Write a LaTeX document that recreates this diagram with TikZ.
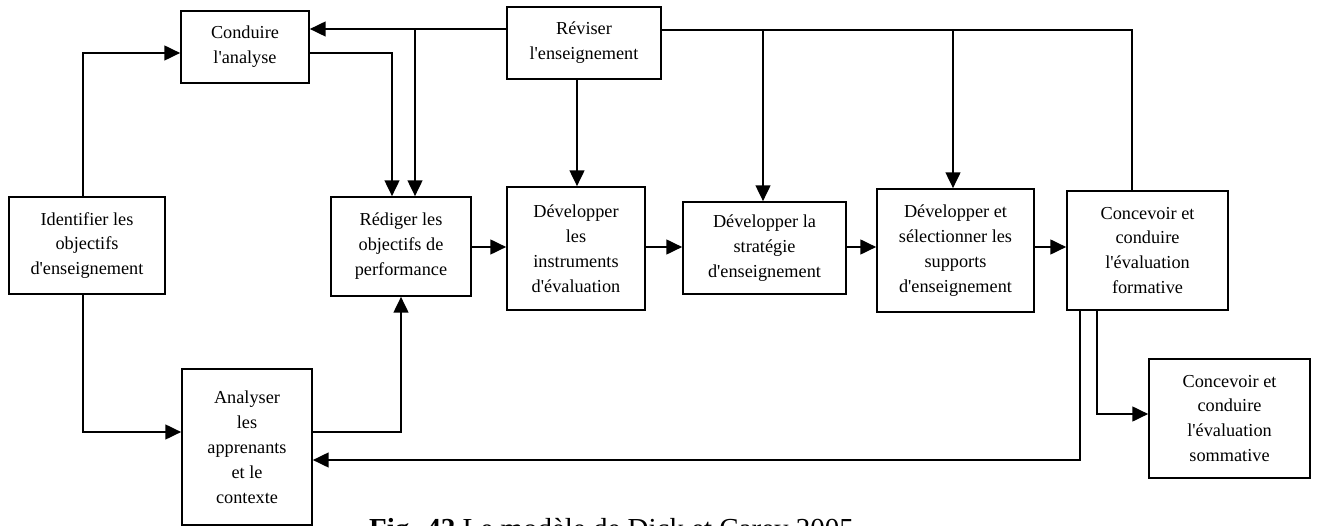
\documentclass[tikz,border=0pt]{standalone}
\usepackage{fontspec}
\setmainfont{Liberation Serif}
\usetikzlibrary{arrows.meta}
\newcommand{\apos}{\textquotesingle}
\begin{document}
\begin{tikzpicture}[x=0.02cm,y=-0.02cm,
    box/.style={draw,line width=1pt,align=center,inner sep=2pt,font=\fontsize{10.4}{14.2}\selectfont},
    link/.style={line width=0.9pt},
    arr/.style={link,-{Triangle[length=9pt,width=8.5pt]}}]
  \path[use as bounding box,clip] (0,0) rectangle (1317,526);
  % boxes
  \node[box,minimum width=3.12cm,minimum height=1.94cm] (identifier) at (87,245.5) {Identifier les\\objectifs\\d\apos enseignement};
  \node[box,minimum width=2.56cm,minimum height=1.44cm] (conduire) at (245,47) {Conduire\\l\apos analyse};
  \node[box,minimum width=2.6cm,minimum height=3.12cm] (apprenants) at (247,447) {Analyser\\les\\apprenants\\et le\\contexte};
  \node[box,minimum width=3.08cm,minimum height=1.44cm] (reviser) at (584,43) {Réviser\\l\apos enseignement};
  \node[box,minimum width=2.8cm,minimum height=1.98cm] (rediger) at (401,246.5) {Rédiger les\\objectifs de\\performance};
  \node[box,minimum width=2.76cm,minimum height=2.46cm] (instruments) at (576,248.5) {Développer\\les\\instruments\\d\apos évaluation};
  \node[box,minimum width=3.26cm,minimum height=1.84cm] (strategie) at (764.5,248) {Développer la\\stratégie\\d\apos enseignement};
  \node[box,minimum width=3.14cm,minimum height=2.46cm] (supports) at (955.5,250.5) {Développer et\\sélectionner les\\supports\\d\apos enseignement};
  \node[box,minimum width=3.22cm,minimum height=2.38cm] (formative) at (1147.5,250.5) {Concevoir et\\conduire\\l\apos évaluation\\formative};
  \node[box,minimum width=3.22cm,minimum height=2.38cm] (sommative) at (1229.5,418.5) {Concevoir et\\conduire\\l\apos évaluation\\sommative};
  \node[anchor=base west,font=\fontsize{16.5}{20}\selectfont] (caption) at (363,538) {\textbf{Fig. 42} Le modèle de Dick et Carey 2005};
  % connectors
  \draw[arr] (identifier.north -| 83,0) |- (conduire.west |- 0,53);
  \draw[arr] (identifier.south -| 83,0) |- (apprenants.west |- 0,432);
  \draw[arr] (apprenants.east |- 0,432) -| (rediger.south);
  \draw[arr] (conduire.east |- 0,53) -| (rediger.north -| 392,0);
  \draw[arr] (reviser.west |- 0,29) -- (conduire.east |- 0,29);
  \coordinate (b1) at (415,29);
  \draw[arr] (b1) -- (rediger.north -| b1);
  \draw[arr] (reviser.south -| 577,0) -- (instruments.north -| 577,0);
  \draw[link] (reviser.east |- 0,30) -| (formative.north -| 1132,0);
  \coordinate (b2) at (763,30);
  \draw[arr] (b2) -- (strategie.north -| b2);
  \coordinate (b3) at (953,30);
  \draw[arr] (b3) -- (supports.north -| b3);
  \draw[arr] (rediger.east |- 0,247) -- (instruments.west |- 0,247);
  \draw[arr] (instruments.east |- 0,247) -- (strategie.west |- 0,247);
  \draw[arr] (strategie.east |- 0,247) -- (supports.west |- 0,247);
  \draw[arr] (supports.east |- 0,247) -- (formative.west |- 0,247);
  \draw[arr] (formative.south -| 1080,0) |- (apprenants.east |- 0,460);
  \draw[arr] (formative.south -| 1097,0) |- (sommative.west |- 0,414);
\end{tikzpicture}
\end{document}
